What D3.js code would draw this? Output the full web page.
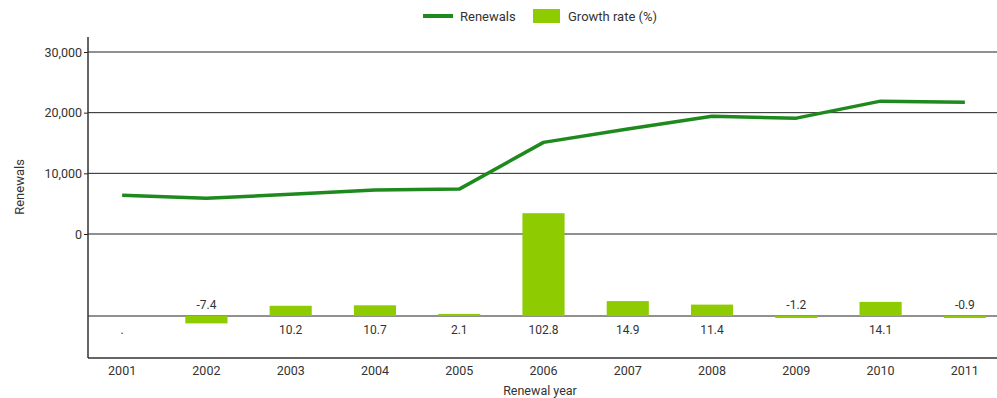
<!DOCTYPE html>
<html>
<head>
<meta charset="utf-8">
<script src="https://cdn.jsdelivr.net/npm/d3@7"></script>
<style>
  html, body { margin: 0; padding: 0; background: #fff; }
  svg text { font-family: "Liberation Sans Narrow", "Roboto", "DejaVu Sans Condensed", sans-serif; fill: #333; }
</style>
</head>
<body>
<svg id="chart" width="997" height="398"></svg>
<script>
// Renewals per year and year-on-year growth rate
const years = ["2001","2002","2003","2004","2005","2006","2007","2008","2009","2010","2011"];
const renewals = [6400, 5900, 6550, 7250, 7400, 15100, 17300, 19400, 19100, 21900, 21700];
const growthRate = [null, -7.4, 10.2, 10.7, 2.1, 102.8, 14.9, 11.4, -1.2, 14.1, -0.9];
const renewalTicks = [0, 10000, 20000, 30000];

const svg = d3.select("#chart");
const left = 88, right = 997;

const x = d3.scaleBand().domain(years).range([80, 1007]).paddingInner(0.5).paddingOuter(0.25);
const y = d3.scaleLinear().domain([0, 30000]).range([234, 52]);
const yRate = d3.scaleLinear().domain([0, 100]).range([316, 216]);

// horizontal gridlines for renewals
svg.append("g").selectAll("line").data(renewalTicks).join("line")
  .attr("x1", left).attr("x2", right)
  .attr("y1", d => y(d)).attr("y2", d => y(d))
  .attr("stroke", "#222").attr("stroke-width", 1);

// left axis with labels
const yAxis = svg.append("g").attr("transform", `translate(${left},0)`)
  .call(d3.axisLeft(y).tickValues(renewalTicks).tickSize(4).tickPadding(2).tickFormat(d3.format(",")));
yAxis.select(".domain").remove();
yAxis.selectAll("text").style("font-size", "12.5px").attr("fill", "#333");
yAxis.selectAll("line").attr("stroke", "#222");

// bar baseline and bottom axis
svg.append("line").attr("x1", left).attr("x2", right)
  .attr("y1", yRate(0)).attr("y2", yRate(0)).attr("stroke", "#222");
svg.append("line").attr("x1", left).attr("x2", right)
  .attr("y1", 358).attr("y2", 358).attr("stroke", "#333").attr("stroke-width", 1.5);
svg.append("line").attr("x1", left).attr("x2", left)
  .attr("y1", 37).attr("y2", 358).attr("stroke", "#333").attr("stroke-width", 1.5);

// growth rate bars
const rateData = years.map((yr, i) => ({ yr, v: growthRate[i] }));
svg.append("g").selectAll("rect").data(rateData.filter(d => d.v !== null)).join("rect")
  .attr("x", d => x(d.yr))
  .attr("width", x.bandwidth())
  .attr("y", d => Math.min(yRate(d.v), yRate(0)))
  .attr("height", d => Math.max(Math.abs(yRate(d.v) - yRate(0)), 2))
  .attr("fill", "#8ecb00");

// bar value labels: below the baseline for growth, above for decline
svg.append("g").selectAll("text").data(rateData).join("text")
  .attr("x", d => x(d.yr) + x.bandwidth() / 2)
  .attr("y", d => (d.v !== null && d.v < 0) ? yRate(0) - 7 : yRate(0) + 18)
  .attr("text-anchor", "middle")
  .style("font-size", "12px")
  .text(d => d.v === null ? "." : d.v.toFixed(1));

// renewals line
const line = d3.line().x((d, i) => x(years[i]) + x.bandwidth() / 2).y(d => y(d));
svg.append("path").datum(renewals)
  .attr("d", line).attr("fill", "none")
  .attr("stroke", "#1e8a1e").attr("stroke-width", 3.5).attr("stroke-linejoin", "round");

// x axis labels
svg.append("g").selectAll("text").data(years).join("text")
  .attr("x", d => x(d) + x.bandwidth() / 2)
  .attr("y", 375).attr("text-anchor", "middle")
  .style("font-size", "12.5px").text(d => d);

svg.append("text").attr("x", 540).attr("y", 395).attr("text-anchor", "middle")
  .style("font-size", "12.5px").text("Renewal year");

svg.append("text").attr("transform", "translate(24,187) rotate(-90)")
  .attr("text-anchor", "middle").style("font-size", "13px").text("Renewals");

// legend
const legend = svg.append("g");
legend.append("line").attr("x1", 423).attr("x2", 453).attr("y1", 16).attr("y2", 16)
  .attr("stroke", "#1e8a1e").attr("stroke-width", 4);
legend.append("text").attr("x", 460).attr("y", 20.5).style("font-size", "13px").text("Renewals");
legend.append("rect").attr("x", 533).attr("y", 9).attr("width", 27).attr("height", 14).attr("fill", "#8ecb00");
legend.append("text").attr("x", 568).attr("y", 20.5).style("font-size", "13px").text("Growth rate (%)");
</script>
</body>
</html>
